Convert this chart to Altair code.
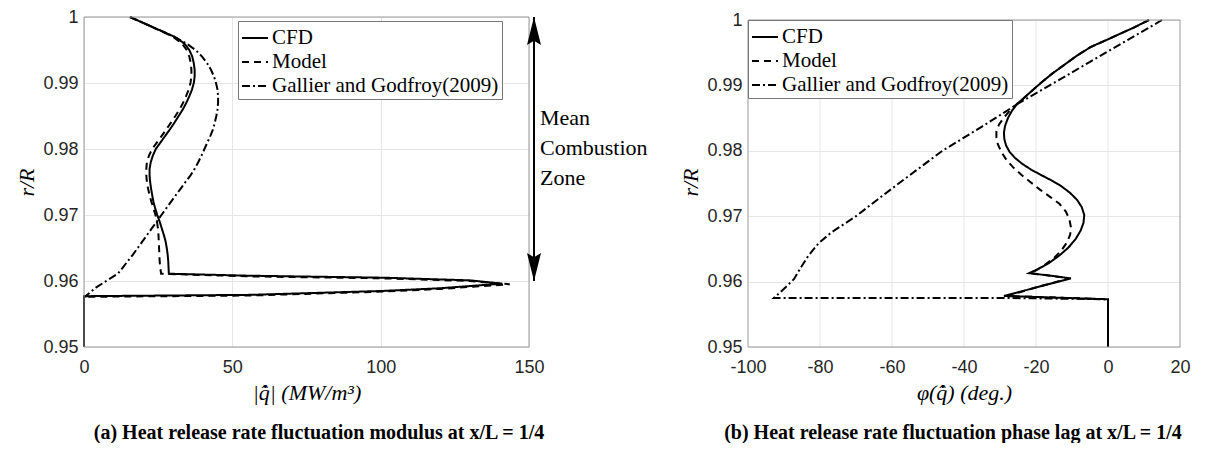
import altair as alt
import pandas as pd

SERIES = ["CFD", "Model", "Gallier and Godfroy(2009)"]
DASHES = [[1, 0], [7, 5], [8, 3, 2, 3]]

# ---- Panel (a): |q| (MW/m^3) vs r/R ----
A_CFD_Q = [15.5, 20.5, 25.5, 30.5, 33.8, 35.5, 36.5, 37.0, 37.3, 37.3, 37.0, 36.4, 35.5, 34.5, 33.3,
           31.9, 30.5, 29.0, 27.4, 25.8, 24.2, 23.2, 22.5, 22.1, 22.1, 22.3, 22.6, 23.0, 23.4, 24.0,
           24.7, 25.5, 26.2, 26.9, 27.5, 27.9, 28.2, 28.4, 28.5, 28.6,
           56, 101, 130, 141, 120, 101, 56, 0, 0]
A_CFD_R = [1.000, 0.9990, 0.9980, 0.9970, 0.9960, 0.9950, 0.9940, 0.9930, 0.9920, 0.9910, 0.9900,
           0.9890, 0.9880, 0.9870, 0.9860, 0.9850, 0.9840, 0.9830, 0.9820, 0.9810, 0.9800, 0.9790,
           0.9780, 0.9770, 0.9760, 0.9750, 0.9740, 0.9730, 0.9720, 0.9710, 0.9700, 0.9690, 0.9680,
           0.9670, 0.9660, 0.9650, 0.9640, 0.9630, 0.9620, 0.9611,
           0.9608, 0.9605, 0.9601, 0.9596, 0.9589, 0.9585, 0.9579, 0.9577, 0.9500]
A_MOD_Q = [15.5, 20.5, 25.3, 30.0, 33.0, 34.6, 35.5, 36.0, 36.2, 36.2, 35.9, 35.3, 34.4, 33.4, 32.2,
           30.8, 29.3, 27.8, 26.2, 24.6, 23.0, 21.9, 21.2, 21.0, 21.0, 21.2, 21.6, 22.1, 22.7, 23.4,
           24.1, 24.6, 24.9, 25.1, 25.2, 25.3, 25.4, 25.5, 25.7, 26.0,
           56, 101, 130, 143.5, 120, 101, 56, 0, 0]
A_MOD_R = [1.000, 0.9990, 0.9980, 0.9970, 0.9960, 0.9950, 0.9940, 0.9930, 0.9920, 0.9910, 0.9900,
           0.9890, 0.9880, 0.9870, 0.9860, 0.9850, 0.9840, 0.9830, 0.9820, 0.9810, 0.9800, 0.9790,
           0.9780, 0.9770, 0.9760, 0.9750, 0.9740, 0.9730, 0.9720, 0.9710, 0.9700, 0.9690, 0.9680,
           0.9670, 0.9660, 0.9650, 0.9640, 0.9630, 0.9620, 0.9611,
           0.9607, 0.9604, 0.9600, 0.9595, 0.9588, 0.9584, 0.9578, 0.9576, 0.9500]
A_GAL_Q = [15.5, 20.5, 25.5, 30.5, 34.5, 37.6, 39.8, 41.5, 42.8, 43.8, 44.5, 45.0, 45.2, 45.2, 45.0,
           44.6, 44.1, 43.5, 42.6, 41.6, 40.6, 39.6, 38.5, 37.3, 35.9, 34.2, 32.6, 29.3, 26.1, 22.9,
           19.7, 16.5, 13.0, 11.4, 7.5, 4.0, 0, 0]
A_GAL_R = [1.000, 0.9990, 0.9980, 0.9970, 0.9960, 0.9950, 0.9940, 0.9930, 0.9920, 0.9910, 0.9900,
           0.9890, 0.9880, 0.9870, 0.9860, 0.9850, 0.9840, 0.9830, 0.9820, 0.9810, 0.9800, 0.9790,
           0.9780, 0.9770, 0.9760, 0.9750, 0.9740, 0.9720, 0.9700, 0.9680, 0.9660, 0.9640, 0.9620,
           0.9611, 0.9600, 0.9590, 0.9575, 0.9500]

# ---- Panel (b): phase (deg.) vs r/R ----
B_CFD_P = [11.4, 7, 3, -1, -4.7, -8.5, -12, -15.5, -18.6, -21.5, -23.5, -25, -26.6, -27.8, -28.6,
           -28.9, -28.8, -28.3, -27.3, -25.8, -23.8, -21.3, -18.6, -15.8, -13.0, -10.6, -8.6, -7.3,
           -6.6, -6.8, -7.6, -9.0, -11.0, -13.5, -16.5, -19.5, -21.9, -16, -10.3, -20, -28.9, 0, 0]
B_CFD_R = [1.0, 0.9988, 0.9978, 0.9968, 0.9959, 0.9946, 0.9932, 0.9918, 0.9904, 0.9890, 0.9880,
           0.9873, 0.9862, 0.9850, 0.9838, 0.9828, 0.9818, 0.9808, 0.9798, 0.9789, 0.9780, 0.9771,
           0.9763, 0.9755, 0.9746, 0.9736, 0.9725, 0.9714, 0.9702, 0.9690, 0.9678, 0.9665, 0.9652,
           0.9640, 0.9628, 0.9619, 0.9613, 0.9609, 0.9605, 0.9591, 0.9578, 0.9573, 0.95]
B_MOD_P = [11.4, 7, 3, -1, -4.7, -8.5, -12, -15.5, -18.6, -21.5, -23.5, -25, -27.2, -29.0, -30.3,
           -31.0, -31.0, -30.6, -29.6, -28.2, -26.4, -24.0, -21.5, -19.0, -16.2, -13.5, -11.7, -10.7,
           -10.3, -10.5, -11.4, -12.9, -15.0, -17.7, -20.0, -21.5, -16, -10.8, -20, -28, 0, 0]
B_MOD_R = [1.0, 0.9988, 0.9978, 0.9968, 0.9959, 0.9946, 0.9932, 0.9918, 0.9904, 0.9890, 0.9880,
           0.9873, 0.9862, 0.9850, 0.9840, 0.9830, 0.9820, 0.9810, 0.9798, 0.9786, 0.9775, 0.9763,
           0.9752, 0.9741, 0.9730, 0.9719, 0.9707, 0.9695, 0.9683, 0.9672, 0.9660, 0.9648, 0.9636,
           0.9625, 0.9617, 0.9613, 0.9609, 0.9605, 0.9591, 0.9578, 0.9573, 0.95]
B_GAL_P = [15, 5, -5, -15, -25, -35, -46, -56.7, -63.9, -70, -76.9, -80.5, -83.3, -85.5, -87.2, -90,
           -92.8, -29, 0, 0]
B_GAL_R = [1.0, 0.9968, 0.9936, 0.9904, 0.9872, 0.9837, 0.9800, 0.9756, 0.9726, 0.9700, 0.9675,
           0.9658, 0.9639, 0.9620, 0.9604, 0.9589, 0.9575, 0.9575, 0.9573, 0.95]

A_XTICKS = [0, 50, 100, 150]
B_XTICKS = [-100, -80, -60, -40, -20, 0, 20]
YTICKS = [0.95, 0.96, 0.97, 0.98, 0.99, 1.0]

ANNOT = ["Mean", "Combustion", "Zone"]
CAP_A = "(a)  Heat release rate fluctuation modulus at x/L = 1/4"
CAP_B = "(b)  Heat release rate fluctuation phase lag at x/L = 1/4"

WA, WB, H = 445, 432, 330
GRID = "#e6e6e6"
FRAME = "#999999"


def to_df(groups):
    rows = []
    for name, xs, rs in groups:
        for i, (x, r) in enumerate(zip(xs, rs)):
            rows.append({"series": name, "x": x, "r": r, "idx": i})
    return pd.DataFrame(rows)


df_a = to_df([(SERIES[0], A_CFD_Q, A_CFD_R), (SERIES[1], A_MOD_Q, A_MOD_R), (SERIES[2], A_GAL_Q, A_GAL_R)])
df_b = to_df([(SERIES[0], B_CFD_P, B_CFD_R), (SERIES[1], B_MOD_P, B_MOD_R), (SERIES[2], B_GAL_P, B_GAL_R)])

one = pd.DataFrame({"k": [0]})


def panel(df, xdom, xticks, xtitle, ydom, w, legx, legy, caption, capx, grid_x_manual):
    xscale = alt.Scale(domain=xdom, nice=False, zero=False)
    yscale = alt.Scale(domain=ydom, nice=False, zero=False)
    xaxis = alt.Axis(values=xticks, title=xtitle, grid=not grid_x_manual, labelExpr="datum.value + ''",
                     labelPadding=11, labelFlush=False, titleY=45, titleBaseline="middle")
    yaxis = alt.Axis(values=YTICKS, title="r/R", grid=True, labelExpr="datum.value + ''",
                     labelPadding=6, labelFlush=False, titleX=-58, titleY=H / 2,
                     titleBaseline="middle", titleAngle=-90)
    layers = []
    if grid_x_manual:
        gx = pd.DataFrame({"gx": [v for v in xticks if xdom[0] < v < xdom[1]]})
        layers.append(alt.Chart(gx).mark_rule(color=GRID, strokeWidth=1).encode(
            x=alt.X("gx:Q", scale=xscale, axis=xaxis), y=alt.datum(ydom[0]), y2=alt.datum(1.0)))
    lines = alt.Chart(df).mark_line(strokeWidth=2, color="black").encode(
        x=alt.X("x:Q", scale=xscale, axis=xaxis),
        y=alt.Y("r:Q", scale=yscale, axis=yaxis),
        strokeDash=alt.StrokeDash("series:N", scale=alt.Scale(domain=SERIES, range=DASHES),
                                  legend=alt.Legend(orient="none", legendX=legx, legendY=legy, title=None,
                                                    symbolType="stroke", symbolSize=676,
                                                    symbolStrokeWidth=2, symbolStrokeColor="black",
                                                    labelFont="Liberation Serif", labelFontSize=21,
                                                    labelColor="black", labelLimit=500, labelOffset=3,
                                                    fillColor="white", strokeColor="#777777",
                                                    padding=3, rowPadding=0)),
        order=alt.Order("idx:Q"),
    )
    frame = alt.Chart(one).mark_rect(fillOpacity=0, stroke=FRAME, strokeWidth=1).encode(
        x=alt.value(0), x2=alt.value(w), y=alt.datum(1.0), y2=alt.datum(ydom[0]))
    cap = alt.Chart(one).mark_text(font="Liberation Serif", fontSize=20, fontWeight="bold",
                                   align="center", baseline="middle", color="black").encode(
        x=alt.value(capx), y=alt.value(416), text=alt.value(caption))
    layers += [lines, frame, cap]
    return layers


layers_a = panel(df_a, [0, 150], A_XTICKS, "|q\u0307\u0302|  (MW/m\u00b3)", [0.95, 1.0], WA, 154, 4,
                 CAP_A, 235, False)

# Mean combustion zone arrow (r/R from 0.96 to 1.0)
arrow_line = alt.Chart(one).mark_rule(color="black", strokeWidth=2).encode(
    x=alt.value(450), y=alt.datum(1.0), y2=alt.datum(0.96))
head_up = alt.Chart(one).mark_point(shape="M0,-1L-0.5,1L0,0.7L0.5,1Z", filled=True, size=784,
                                    color="black", opacity=1, yOffset=14).encode(
    x=alt.value(450), y=alt.datum(1.0))
head_dn = alt.Chart(one).mark_point(shape="M0,1L-0.5,-1L0,-0.7L0.5,-1Z", filled=True, size=784,
                                    color="black", opacity=1, yOffset=-14).encode(
    x=alt.value(450), y=alt.datum(0.96))
annot = alt.Chart(one).mark_text(font="Liberation Serif", fontSize=22, align="left",
                                 baseline="alphabetic", lineHeight=30, color="black").encode(
    x=alt.value(456), y=alt.value(108), text=alt.value(ANNOT))

left = alt.layer(*layers_a, arrow_line, head_up, head_dn, annot).properties(width=WA, height=H)

ytop_b = 0.95 + 0.05 * H / 327.0
layers_b = panel(df_b, [-100, 20], B_XTICKS, "\u03c6(q\u0307\u0302)  (deg.)", [0.95, ytop_b], WB, 0, 3,
                 CAP_B, 205, True)
right = alt.layer(*layers_b).properties(width=WB, height=H)

chart = alt.hconcat(left, right, spacing=219, bounds="flush").resolve_scale(
    x="independent", y="independent", strokeDash="independent"
).resolve_legend(strokeDash="independent").configure_view(stroke=None).configure_axis(
    labelFont="Liberation Sans", labelFontSize=18, labelColor="#262626",
    titleFont="Liberation Serif", titleFontStyle="italic", titleFontWeight="normal",
    titleFontSize=22, titleColor="black", domain=False, ticks=False,
    gridColor=GRID, gridWidth=1,
).properties(padding={"left": 7, "top": 0, "right": 0, "bottom": 0})

chart.save("out.html", embed_options={"renderer": "svg", "actions": False})
